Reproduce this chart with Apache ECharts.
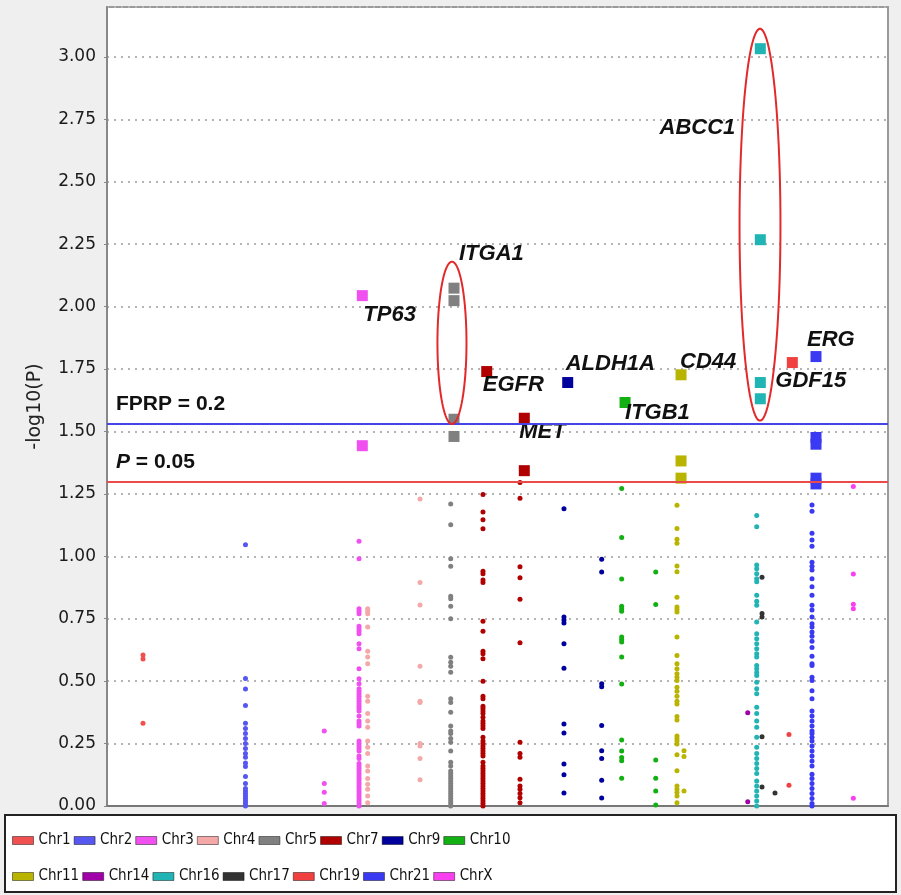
<!DOCTYPE html>
<html lang="en">
<head>
    <meta charset="UTF-8">
    <title>Manhattan plot</title>
</head>
<script src="https://cdn.jsdelivr.net/npm/echarts@6/dist/echarts.min.js"></script>
<body style="margin:0;">
    <div id="main" style="width: 901px;height:895px;"></div>
    <script type="text/javascript">
       // chromosomes in legend order
       var chromosomes = ['Chr1','Chr2','Chr3','Chr4','Chr5','Chr7','Chr9','Chr10',
                          'Chr11','Chr14','Chr16','Chr17','Chr19','Chr21','ChrX'];
       var colors = ['#f05050','#5656f0','#f050f0','#f4a8a8','#808080','#b00000','#00009c','#12b012',
                     '#b8b400','#a000a8','#20b4b4','#333333','#f04040','#3a3af2','#f840f0'];

       // SNPs below threshold: [position, [-log10(P) ...]]
       var chr1  = [[4.61, [0.605, 0.589, 0.331]]];
       var chr2  = [[17.73, [1.046, 0.511, 0.469, 0.403, 0.331, 0.31, 0.29, 0.27, 0.25, 0.23, 0.21, 0.195, 0.172, 0.158, 0.118, 0.09, 0.07, 0.06, 0.05, 0.04, 0.03, 0.02, 0.01, 0.0]]];
       var chr3  = [[27.82, [0.30, 0.09, 0.055, 0.01]],
                    [32.27, [1.06, 0.99, 0.79, 0.78, 0.77, 0.72, 0.71, 0.70, 0.69, 0.65, 0.63, 0.55, 0.51, 0.49, 0.47, 0.46, 0.45, 0.44, 0.43, 0.42, 0.41, 0.40, 0.39, 0.38, 0.36, 0.34, 0.33, 0.32, 0.26, 0.25, 0.24, 0.23, 0.22, 0.20, 0.19, 0.17, 0.16, 0.15, 0.14, 0.13, 0.12, 0.11, 0.10, 0.09, 0.08, 0.07, 0.06, 0.05, 0.04, 0.03, 0.02, 0.01, 0.0]]];
       var chr4  = [[33.38, [0.79, 0.78, 0.77, 0.717, 0.62, 0.597, 0.57, 0.44, 0.42, 0.37, 0.34, 0.315, 0.26, 0.235, 0.21, 0.16, 0.14, 0.11, 0.087, 0.067, 0.04, 0.013]],
                    [40.08, [1.23, 0.895, 0.805, 0.56, 0.42, 0.415, 0.25, 0.24, 0.19, 0.105]]];
       var chr5  = [[44.01, [1.21, 1.126, 0.99, 0.96, 0.84, 0.83, 0.80, 0.75, 0.596, 0.576, 0.56, 0.536, 0.43, 0.415, 0.375, 0.32, 0.30, 0.29, 0.27, 0.255, 0.22, 0.175, 0.16, 0.14, 0.13, 0.12, 0.11, 0.10, 0.09, 0.08, 0.07, 0.06, 0.05, 0.04, 0.03, 0.02, 0.01, 0.0]]];
       var chr7  = [[48.14, [1.248, 1.177, 1.146, 1.11, 0.94, 0.93, 0.905, 0.895, 0.74, 0.70, 0.62, 0.61, 0.59, 0.50, 0.44, 0.43, 0.40, 0.39, 0.38, 0.37, 0.355, 0.34, 0.33, 0.32, 0.31, 0.275, 0.26, 0.25, 0.24, 0.23, 0.22, 0.21, 0.20, 0.175, 0.16, 0.15, 0.14, 0.13, 0.12, 0.11, 0.10, 0.09, 0.08, 0.07, 0.06, 0.05, 0.04, 0.03, 0.02, 0.01, 0.0]],
                    [52.88, [1.296, 1.233, 0.958, 0.914, 0.828, 0.654, 0.255, 0.21, 0.195, 0.107, 0.08, 0.067, 0.05, 0.033, 0.013]]];
       var chr9  = [[58.51, [1.19, 0.757, 0.745, 0.733, 0.65, 0.552, 0.328, 0.292, 0.168, 0.125, 0.052]],
                    [63.34, [0.988, 0.937, 0.49, 0.478, 0.322, 0.221, 0.19, 0.103, 0.032]]];
       var chr10 = [[65.90, [1.272, 1.075, 0.909, 0.80, 0.79, 0.78, 0.677, 0.667, 0.657, 0.597, 0.489, 0.264, 0.22, 0.194, 0.181, 0.111]],
                    [70.26, [0.937, 0.807, 0.184, 0.111, 0.06, 0.004]]];
       var chr11 = [[72.98, [1.205, 1.111, 1.068, 1.052, 0.961, 0.938, 0.836, 0.797, 0.787, 0.777, 0.677, 0.603, 0.57, 0.55, 0.53, 0.516, 0.503, 0.476, 0.46, 0.44, 0.42, 0.409, 0.358, 0.344, 0.28, 0.27, 0.26, 0.248, 0.205, 0.141, 0.08, 0.067, 0.054, 0.04, 0.013]],
                    [73.88, [0.221, 0.198, 0.06]]];
       var chr14 = [[82.04, [0.373, 0.017]]];
       var chr16 = [[83.19, [1.163, 1.118, 0.965, 0.95, 0.93, 0.91, 0.898, 0.844, 0.82, 0.804, 0.737, 0.69, 0.67, 0.65, 0.63, 0.61, 0.597, 0.563, 0.55, 0.535, 0.523, 0.496, 0.47, 0.45, 0.395, 0.37, 0.34, 0.315, 0.275, 0.235, 0.21, 0.19, 0.17, 0.15, 0.13, 0.10, 0.08, 0.06, 0.04, 0.02, 0.0]]];
       var chr17 = [[83.87, [0.916, 0.771, 0.757, 0.277, 0.076]],
                    [85.53, [0.052]]];
       var chr19 = [[87.32, [0.286, 0.083]]];
       var chr21 = [[90.27, [1.206, 1.18, 1.092, 1.065, 1.04, 0.976, 0.96, 0.945, 0.91, 0.878, 0.844, 0.804, 0.785, 0.757, 0.73, 0.717, 0.697, 0.68, 0.66, 0.635, 0.60, 0.57, 0.563, 0.516, 0.503, 0.462, 0.43, 0.38, 0.36, 0.34, 0.32, 0.30, 0.29, 0.275, 0.26, 0.24, 0.22, 0.20, 0.18, 0.16, 0.127, 0.11, 0.09, 0.07, 0.05, 0.03, 0.01, 0.0]]];
       var chrX  = [[95.56, [1.28, 0.929, 0.808, 0.79, 0.031]]];

       // significant SNPs (big squares)
       var hitChrom = ['Chr3','Chr3','Chr5','Chr5','Chr5','Chr5','Chr7','Chr7','Chr7','Chr9','Chr10',
                       'Chr11','Chr11','Chr11','Chr16','Chr16','Chr16','Chr16','Chr19',
                       'Chr21','Chr21','Chr21','Chr21','Chr21'];
       var hitPos   = [32.69, 32.69, 44.43, 44.43, 44.43, 44.43, 48.62, 53.43, 53.43, 58.99, 66.33,
                       73.50, 73.50, 73.50, 83.65, 83.65, 83.65, 83.65, 87.75,
                       90.78, 90.78, 90.78, 90.78, 90.78];
       var hitValue = [2.044, 1.443, 2.074, 2.024, 1.549, 1.48, 1.74, 1.553, 1.343, 1.696, 1.616,
                       1.727, 1.382, 1.313, 3.033, 2.268, 1.696, 1.631, 1.776,
                       1.80, 1.476, 1.449, 1.313, 1.29];
       var hitGene  = ['TP63','','ITGA1','','','','EGFR','MET','','ALDH1A','ITGB1',
                       'CD44','','','ABCC1','','','','GDF15',
                       'ERG','','','',''];

       // thresholds
       var fprpLine = 1.526;
       var pLine = 1.301;

       // circled groups: [centre position, low, high, half width]
       var circled = [[44.17, 1.53, 2.18, 1.86], [83.61, 1.543, 3.113, 2.62]];

       var snpData = {Chr1: chr1, Chr2: chr2, Chr3: chr3, Chr4: chr4, Chr5: chr5, Chr7: chr7, Chr9: chr9,
                      Chr10: chr10, Chr11: chr11, Chr14: chr14, Chr16: chr16, Chr17: chr17,
                      Chr19: chr19, Chr21: chr21, ChrX: chrX};

       // label placement next to the gene squares
       var labelPlace = {
           TP63:   {offset: [1, 19],   align: 'left'},
           ITGA1:  {offset: [5, -34],  align: 'left'},
           EGFR:   {offset: [-4, 13],  align: 'left'},
           MET:    {offset: [-5, 14],  align: 'left'},
           ALDH1A: {offset: [-2, -19], align: 'left'},
           ITGB1:  {offset: [0, 10],   align: 'left'},
           CD44:   {offset: [-1, -13], align: 'left'},
           ABCC1:  {offset: [-25, 79], align: 'right'},
           GDF15:  {offset: [-17, 18], align: 'left'},
           ERG:    {offset: [-9, -17], align: 'left'}
       };

       var myChart = echarts.init(document.getElementById("main"));

       var series = [];
       chromosomes.forEach(function (name, ci) {
           var data = [];
           snpData[name].forEach(function (col) {
               col[1].forEach(function (v) {
                   data.push([col[0], v]);
               });
           });
           for (var i = 0; i < hitChrom.length; i++) {
               if (hitChrom[i] !== name) continue;
               var item = {value: [hitPos[i], hitValue[i]], symbol: 'rect', symbolSize: 11};
               var g = hitGene[i];
               if (g) {
                   item.label = {
                       show: true,
                       formatter: g,
                       position: 'inside',
                       offset: labelPlace[g].offset,
                       align: labelPlace[g].align,
                       verticalAlign: 'middle',
                       color: '#111',
                       fontSize: 22,
                       fontWeight: 'bold',
                       fontStyle: 'italic',
                       fontFamily: '"Liberation Sans", Arial, sans-serif'
                   };
               }
               data.push(item);
           }
           series.push({
               name: name,
               type: 'scatter',
               symbol: 'circle',
               symbolSize: 5,
               itemStyle: {color: colors[ci], opacity: 1},
               data: data,
               z: 3
           });
       });

       // threshold lines
       series.push({
           name: 'thresholds',
           type: 'scatter',
           data: [],
           z: 2,
           markLine: {
               silent: true,
               symbol: ['none', 'none'],
               animation: false,
               label: {
                   position: 'insideStartTop',
                   distance: [9, 9],
                   color: '#111',
                   fontSize: 21,
                   fontWeight: 'bold',
                   fontFamily: '"Liberation Sans", Arial, sans-serif',
                   rich: {
                       i: {fontStyle: 'italic', fontWeight: 'bold', fontSize: 21, color: '#111',
                           fontFamily: '"Liberation Sans", Arial, sans-serif'}
                   }
               },
               data: [
                   {yAxis: fprpLine, lineStyle: {color: '#4646e6', width: 2, type: 'solid'},
                    label: {formatter: 'FPRP = 0.2'}},
                   {yAxis: pLine, lineStyle: {color: '#ea4a4a', width: 2, type: 'solid'},
                    label: {formatter: '{i|P} = 0.05'}}
               ]
           }
       });

       // red ellipses round the gene groups
       series.push({
           name: 'circled',
           type: 'custom',
           z: 5,
           encode: {x: 0, y: [1, 2]},
           data: circled,
           renderItem: function (params, api) {
               var c = api.coord([api.value(0), (api.value(1) + api.value(2)) / 2]);
               var l = api.coord([api.value(0) - api.value(3), api.value(1)]);
               var t = api.coord([api.value(0), api.value(2)]);
               var rx = c[0] - l[0], ry = c[1] - t[1];
               var pts = [];
               for (var k = 0; k <= 90; k++) {
                   var a = k / 90 * 2 * Math.PI;
                   pts.push([c[0] + rx * Math.cos(a), c[1] + ry * Math.sin(a)]);
               }
               return {type: 'polygon', shape: {points: pts},
                       style: {fill: 'none', stroke: '#e22a2a', lineWidth: 2}};
           }
       });

       var legendText = {fontSize: 15, color: '#111',
                         fontFamily: '"Liberation Sans Narrow", "DejaVu Sans Condensed", Arial, sans-serif'};

       var option = {
           animation: false,
           backgroundColor: '#efefef',
           color: colors,
           grid: {left: 107, right: 13, top: 7, bottom: 89, show: true,
                  backgroundColor: '#fff', borderColor: '#9a9a9a', borderWidth: 2},
           xAxis: {
               type: 'value', min: 0, max: 100,
               axisLine: {show: true, lineStyle: {color: '#777', width: 2}},
               axisTick: {show: false}, axisLabel: {show: false}, splitLine: {show: false}
           },
           yAxis: {
               type: 'value', min: 0, max: 3.2, interval: 0.25,
               name: '-log10(P)', nameLocation: 'middle', nameGap: 62,
               nameTextStyle: {fontSize: 19, color: '#222', fontFamily: '"DejaVu Sans", sans-serif'},
               axisLine: {show: true, lineStyle: {color: '#888', width: 2}},
               axisTick: {show: true, length: 3, lineStyle: {color: '#888'}},
               axisLabel: {
                   margin: 11, fontSize: 17, color: '#1a1a1a',
                   fontFamily: '"DejaVu Sans", sans-serif',
                   showMaxLabel: false,
                   formatter: function (v) { return v.toFixed(2); }
               },
               splitLine: {show: true, lineStyle: {color: '#b4b4b4', type: [2, 5], width: 2}}
           },
           graphic: [{
               type: 'rect', z: -1,
               shape: {x: 5, y: 815, width: 891, height: 77},
               style: {fill: '#fff', stroke: '#222', lineWidth: 2}
           }],
           legend: [{
               data: chromosomes.slice(0, 8),
               left: 7, top: 828, icon: 'rect', itemWidth: 21, itemHeight: 8, itemGap: 3,
               itemStyle: {borderColor: 'rgba(0,0,0,0.45)', borderWidth: 1},
               textStyle: legendText, selectedMode: false
           }, {
               data: chromosomes.slice(8),
               left: 7, top: 864, icon: 'rect', itemWidth: 21, itemHeight: 8, itemGap: 3,
               itemStyle: {borderColor: 'rgba(0,0,0,0.45)', borderWidth: 1},
               textStyle: legendText, selectedMode: false
           }],
           series: series
       };

       myChart.setOption(option);
    </script>
</body>
</html>
